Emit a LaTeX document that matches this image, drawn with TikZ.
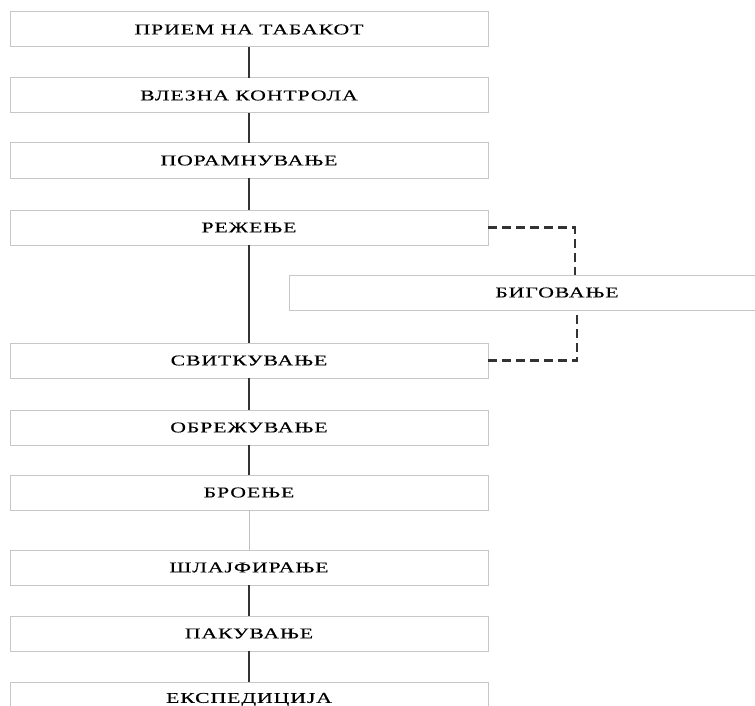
\documentclass[tikz,border=0pt]{standalone}
\usepackage{fontspec}
\setmainfont[FakeStretch=1.45,LetterSpace=6,FakeBold=0.15]{Liberation Serif}
\usetikzlibrary{positioning}

\begin{document}
\begin{tikzpicture}[
x=1pt, y=-1pt,
font=\fontsize{15}{18}\selectfont,
box/.style={draw=black!22, line width=1pt, minimum width=478pt, minimum height=35pt, inner sep=0pt, outer sep=0pt, fill=white},
link/.style={draw=black!80, line width=1.3pt},
thinlink/.style={draw=black!25, line width=0.8pt},
optlink/.style={draw=black!80, line width=2.3pt, dash pattern=on 9pt off 5pt}
]
\clip (0,0) rectangle (755,706);

\node[box] (prijem) at (249,29.5) {ПРИЕМ НА ТАБАКОТ};
\node[box, below=31pt of prijem] (kontrola) {ВЛЕЗНА КОНТРОЛА};
\node[box, below=30pt of kontrola] (poramn) {ПОРАМНУВАЊЕ};
\node[box, below=32pt of poramn] (rezenje) {РЕЖЕЊЕ};
\node[box, below=98pt of rezenje] (svitk) {СВИТКУВАЊЕ};
\node[box, below=32pt of svitk] (obrez) {ОБРЕЖУВАЊЕ};
\node[box, below=30pt of obrez] (broenje) {БРОЕЊЕ};
\node[box, below=40pt of broenje] (slajf) {ШЛАЈФИРАЊЕ};
\node[box, below=31pt of slajf] (pakuv) {ПАКУВАЊЕ};
\node[box, below=31pt of pakuv] (ekspe) {ЕКСПЕДИЦИЈА};

\node[box, minimum width=536pt] (bigov) at (557,292.5) {БИГОВАЊЕ};

\coordinate (bigtop) at ([xshift=18pt]bigov.north);
\coordinate (bigbot) at ([xshift=20pt]bigov.south);

\draw[link] (prijem) -- (kontrola);
\draw[link] (kontrola) -- (poramn);
\draw[link] (poramn) -- (rezenje);
\draw[link] (rezenje) -- (svitk);
\draw[link] (svitk) -- (obrez);
\draw[link] (obrez) -- (broenje);
\draw[thinlink] (broenje) -- (slajf);
\draw[link] (slajf) -- (pakuv);
\draw[link] (pakuv) -- (ekspe);

\draw[optlink] (rezenje.east) -| (bigtop);
\draw[optlink] (svitk.east) -| (bigbot);
\end{tikzpicture}
\end{document}
